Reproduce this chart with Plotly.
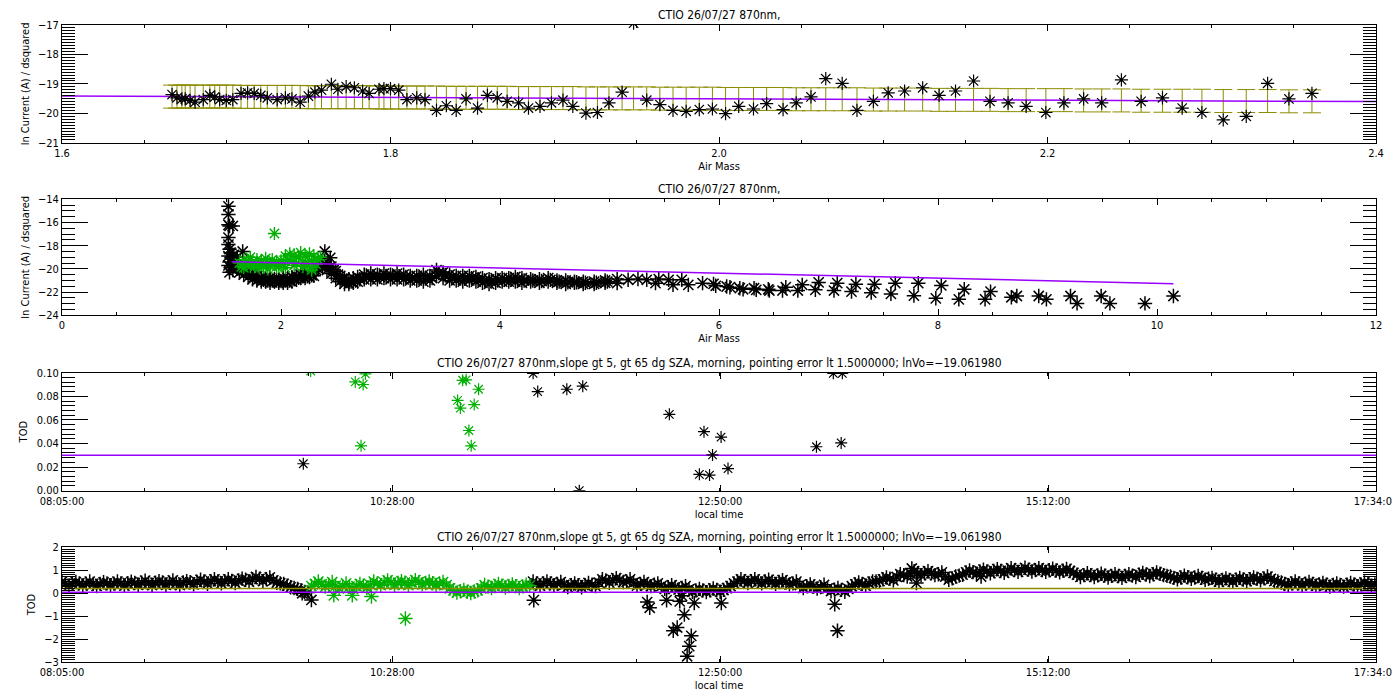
import plotly.graph_objects as go

FONT = "Liberation Sans Narrow, DejaVu Sans Condensed, Liberation Sans, sans-serif"
GREEN = "#00b000"
PURPLE = "#9a00ff"
OLIVE = "#8c8c00"

# ---- panel 1: morning points, ln current vs air mass ----
p1_airmass = [1.667, 1.670, 1.673, 1.675, 1.678, 1.681, 1.686, 1.690, 1.693, 1.696,
              1.700, 1.704, 1.709, 1.713, 1.717, 1.721, 1.725, 1.731, 1.736, 1.740,
              1.745, 1.750, 1.754, 1.758, 1.764, 1.768, 1.773, 1.778, 1.783, 1.787,
              1.793, 1.796, 1.800, 1.805, 1.810, 1.816, 1.821, 1.828, 1.834, 1.840,
              1.846, 1.853, 1.859, 1.865, 1.871, 1.878, 1.884, 1.891, 1.898, 1.905,
              1.911, 1.919, 1.926, 1.933, 1.941, 1.948, 1.956, 1.964, 1.972, 1.980,
              1.988, 1.996, 2.004, 2.012, 2.021, 2.029, 2.039, 2.047, 2.056, 2.065,
              2.075, 2.084, 2.094, 2.103, 2.113, 2.124, 2.134, 2.144, 2.155, 2.165,
              2.176, 2.187, 2.199, 2.210, 2.222, 2.233, 2.245, 2.257, 2.270, 2.282,
              2.294, 2.307, 2.321, 2.334, 2.347, 2.361]
p1_lnv = [-19.36, -19.47, -19.51, -19.51, -19.56, -19.62, -19.53, -19.39, -19.44, -19.53,
          -19.56, -19.53, -19.32, -19.30, -19.32, -19.39, -19.47, -19.53, -19.47, -19.51,
          -19.62, -19.41, -19.28, -19.21, -19.01, -19.18, -19.09, -19.13, -19.24, -19.32,
          -19.18, -19.16, -19.16, -19.21, -19.53, -19.47, -19.53, -19.90, -19.74, -19.90,
          -19.51, -19.82, -19.39, -19.47, -19.59, -19.64, -19.82, -19.76, -19.64, -19.55,
          -19.76, -19.99, -19.97, -19.64, -19.28, -16.94, -19.55, -19.70, -19.90, -19.93,
          -19.87, -19.85, -20.01, -19.76, -19.85, -19.67, -19.87, -19.64, -19.44, -18.82,
          -18.98, -19.90, -19.59, -19.30, -19.24, -19.13, -19.39, -19.24, -18.90, -19.59,
          -19.64, -19.76, -19.97, -19.64, -19.51, -19.64, -18.86, -19.59, -19.47, -19.82,
          -19.97, -20.22, -20.10, -18.98, -19.51, -19.32]
p1_err_mid = ([-19.43] * 12 + [-19.44] * 9 + [-19.45] * 9 + [-19.46] * 8 + [-19.47] * 7
              + [-19.48] * 6 + [-19.49] * 6 + [-19.50] * 5 + [-19.51] * 5 + [-19.52] * 5
              + [-19.53] * 4 + [-19.54] * 4 + [-19.55] * 4 + [-19.56] * 3 + [-19.57] * 4
              + [-19.58] * 3 + [-19.59] * 2)
p1_err = 0.39
p1_fit_x = [1.6, 2.4]
p1_fit_y = [-19.41, -19.60]

# ---- panel 2: all points, ln current vs air mass ----
p2_spike_x = [1.52, 1.52, 1.52, 1.53, 1.56, 1.52, 1.52, 1.53, 1.54, 1.52, 1.55,
              1.53, 1.52, 1.54, 1.56, 1.53, 1.57, 1.59, 1.57, 1.60, 1.65, 2.40, 2.45]
p2_spike_y = [-14.6, -15.3, -16.2, -16.3, -16.3, -17.3, -17.9, -18.3, -18.6, -18.9, -19.1,
              -19.4, -19.7, -19.9, -20.1, -20.3, -18.8, -19.3, -19.8, -19.0, -18.5, -18.5, -19.05]
p2_band_x = [1.62, 1.66, 1.70, 1.74, 1.78, 1.82, 1.86, 1.90, 1.94, 1.98,
             2.02, 2.06, 2.10, 2.14, 2.18, 2.22, 2.26, 2.30, 2.34, 2.38,
             2.42, 2.46, 2.50, 2.54, 2.58, 2.62, 2.66, 2.70,
             2.76, 2.82, 2.88, 2.94, 3.00, 3.06, 3.12, 3.18, 3.24, 3.30,
             3.36, 3.42, 3.48, 3.54, 3.60, 3.66, 3.72, 3.78, 3.84, 3.90, 3.96,
             4.02, 4.08, 4.14, 4.20, 4.28, 4.36, 4.44, 4.52, 4.60, 4.68, 4.76, 4.86, 4.96]
p2_band_top = [-19.9, -20.0, -20.2, -20.4, -20.6, -20.8, -20.8, -20.8, -20.9, -20.9,
               -20.8, -20.8, -20.7, -20.6, -20.5, -20.5, -20.4, -20.2, -19.5, -19.3,
               -19.6, -19.8, -20.2, -20.6, -20.8, -20.9, -20.8, -20.7,
               -20.5, -20.4, -20.5, -20.4, -20.5, -20.4, -20.5, -20.6, -20.6, -20.5,
               -20.6, -20.1, -20.3, -20.5, -20.6, -20.6, -20.6, -20.7, -20.8, -20.9, -20.8,
               -20.8, -20.8, -20.7, -20.8, -20.9, -20.9, -20.8, -21.0, -21.0, -21.1, -21.1, -21.1, -21.0]
p2_band_bot = [-20.3, -20.5, -20.7, -20.9, -21.0, -21.1, -21.1, -21.2, -21.1, -21.2,
               -21.2, -21.2, -21.1, -20.9, -20.8, -20.8, -20.7, -20.6, -20.0, -19.8,
               -20.1, -20.4, -20.8, -21.1, -21.3, -21.3, -21.2, -21.1,
               -20.9, -20.9, -20.9, -20.8, -20.9, -20.9, -20.9, -21.0, -21.0, -21.1,
               -21.0, -20.6, -20.8, -21.0, -21.0, -21.1, -21.0, -21.1, -21.2, -21.3, -21.2,
               -21.1, -21.1, -21.1, -21.2, -21.1, -21.2, -21.1, -21.2, -21.3, -21.2, -21.3, -21.3, -21.2]
# readings of the middle of the band, taken just right of each band_x
p2_band_mid_x = [x + 0.02 for x in p2_band_x]
p2_band_mid = [-20.1, -20.3, -20.5, -20.7, -20.8, -20.95, -21.0, -21.0, -21.0, -21.05,
               -21.0, -21.0, -20.9, -20.75, -20.65, -20.65, -20.55, -20.1, -19.7, -19.5,
               -19.9, -20.1, -20.5, -20.85, -21.05, -21.1, -21.0, -20.9,
               -20.7, -20.65, -20.7, -20.6, -20.7, -20.65, -20.7, -20.8, -20.8, -20.8,
               -20.8, -20.35, -20.55, -20.75, -20.8, -20.85, -20.8, -20.9, -21.0, -21.1, -21.0,
               -20.95, -20.95, -20.9, -21.0, -21.0, -21.05, -20.95, -21.1, -21.15, -21.15,
               -21.2, -21.2, -21.1]
p2_tail_x = [5.07, 5.07, 5.17, 5.26, 5.34, 5.42, 5.45, 5.54, 5.58, 5.66, 5.72,
             5.85, 5.95, 5.97, 6.07, 6.10, 6.19, 6.22, 6.32, 6.34, 6.45,
             6.46, 6.58, 6.61, 6.72, 6.76, 6.88, 6.91, 7.05, 7.08, 7.21,
             7.25, 7.39, 7.42, 7.57, 7.61, 7.78, 7.82, 7.98, 8.03, 8.19,
             8.24, 8.43, 8.48, 8.67, 8.72, 8.92, 8.99, 9.21, 9.27, 9.49,
             9.57, 9.89, 10.15]
p2_tail_y = [-21.23, -20.88, -20.94, -20.88, -20.94, -21.23, -20.88, -20.94, -21.38, -20.94, -21.38,
             -21.23, -21.29, -21.46, -21.52, -21.58, -21.67, -21.76, -21.67, -21.81, -21.76,
             -21.87, -21.87, -21.58, -21.87, -21.38, -21.81, -21.17, -21.87, -21.23, -21.96,
             -21.32, -22.05, -21.32, -22.16, -21.23, -22.31, -21.23, -22.54, -21.43, -22.63,
             -21.76, -22.63, -21.96, -22.45, -22.34, -22.34, -22.63, -22.34, -22.98, -22.34,
             -22.98, -22.98, -22.34]
p2_green_x = [1.62, 1.64, 1.66, 1.68, 1.70, 1.72, 1.74, 1.76, 1.78, 1.80,
              1.82, 1.84, 1.86, 1.88, 1.90, 1.92, 1.94, 1.96, 1.98, 2.00,
              2.02, 2.04, 2.06, 2.08, 2.10, 2.12, 2.14, 2.16, 2.18, 2.20,
              2.22, 2.24, 2.26, 2.28, 2.30, 2.32, 2.34, 2.36,
              1.66, 1.72, 1.80, 1.88, 1.96, 2.04, 2.12, 2.20, 2.28, 1.94, 2.28]
p2_green_y = [-19.5, -19.8, -19.2, -19.6, -19.3, -19.0, -19.5, -19.8, -19.2, -19.6,
              -19.3, -19.8, -19.1, -19.5, -19.7, -19.2, -19.6, -19.4, -19.8, -19.3,
              -19.6, -18.9, -19.2, -18.7, -19.4, -18.8, -19.5, -19.0, -18.6, -19.4,
              -18.9, -19.6, -18.7, -19.3, -18.9, -19.6, -19.2, -19.0,
              -19.9, -19.8, -19.9, -20.0, -19.8, -19.9, -19.7, -19.8, -19.9, -16.95, -20.1]
p2_fit_x = [1.55, 10.15]
p2_fit_y = [-19.38, -21.28]

# ---- panel 3: TOD vs local time (minutes after 08:05:00) ----
p3_black_t = [104.5, 204, 206, 218.6, 225.5, 224, 263, 276, 278, 280.4, 281.7, 285.4, 288.4,
              326.7, 334, 337.9, 337.4]
p3_black_v = [0.0228, 0.0995, 0.084, 0.086, 0.0886, 0.0, 0.0647, 0.0138, 0.050, 0.0132, 0.0303,
              0.0454, 0.0187, 0.0372, 0.0995, 0.0995, 0.0405]
p3_green_t = [107.7, 127, 129.5, 130.4, 131.4, 171.3, 172.5, 173.5, 175, 176.2, 177.2, 178.5, 180.4]
p3_green_v = [0.1015, 0.0922, 0.038, 0.090, 0.099, 0.0765, 0.070, 0.0936, 0.094, 0.051, 0.038,
              0.073, 0.086]
p3_fit_t = [0, 569]
p3_fit_v = [0.03, 0.03]

# ---- panel 4: TOD vs local time, all points ----
p4_t_a = list(range(0, 106, 3))
p4_v_a = [0.5, 0.32, 0.48, 0.33, 0.5, 0.31, 0.47, 0.34, 0.5, 0.32,
          0.49, 0.36, 0.54, 0.35, 0.52, 0.36, 0.55, 0.35, 0.52, 0.38,
          0.58, 0.4, 0.6, 0.42, 0.6, 0.44, 0.62, 0.5, 0.7, 0.52,
          0.68, 0.45, 0.4, 0.25, 0.18, 0.05]
p4_t_a2 = [t + 1.5 for t in p4_t_a]
p4_v_a2 = [0.41, 0.40, 0.42, 0.41, 0.40, 0.40, 0.42, 0.41, 0.42, 0.43,
           0.44, 0.45, 0.44, 0.45, 0.46, 0.45, 0.44, 0.46, 0.47, 0.48,
           0.50, 0.52, 0.51, 0.52, 0.53, 0.55, 0.58, 0.60, 0.62, 0.60,
           0.55, 0.42, 0.32, 0.22, 0.12, 0.02]
p4_t_green = list(range(108, 202, 3))
p4_v_green = [0.3, 0.5, 0.28, 0.48, 0.2, 0.42, 0.18, 0.4, 0.22, 0.5,
              0.34, 0.55, 0.36, 0.52, 0.34, 0.56, 0.38, 0.5, 0.35, 0.48,
              0.2, 0.02, 0.14, 0.0, 0.12, 0.35, 0.22, 0.4, 0.24, 0.38,
              0.22, 0.36]
p4_t_green2 = [t + 1.5 for t in p4_t_green]
p4_v_green2 = [0.40, 0.38, 0.36, 0.32, 0.30, 0.28, 0.30, 0.32, 0.36, 0.42,
               0.45, 0.46, 0.44, 0.45, 0.46, 0.47, 0.44, 0.43, 0.42, 0.35,
               0.12, 0.08, 0.06, 0.07, 0.20, 0.28, 0.30, 0.32, 0.31, 0.30,
               0.29, 0.32]
p4_t_c = list(range(204, 568, 3))
p4_v_c = [0.5, 0.32, 0.5, 0.34, 0.48, 0.26, 0.42, 0.25, 0.44, 0.3,
          0.6, 0.45, 0.65, 0.48, 0.6, 0.32, 0.48, 0.3, 0.42, 0.18,
          0.34, 0.16, 0.3, 0.05, 0.18, 0.04, 0.2, 0.06, 0.22, 0.42,
          0.6, 0.44, 0.6, 0.42, 0.58, 0.4, 0.56, 0.38, 0.5, 0.22,
          0.38, 0.2, 0.36, 0.08, 0.22, 0.06, 0.3, 0.46, 0.32, 0.5,
          0.52, 0.68, 0.55, 0.82, 0.72, 0.95, 0.78, 0.95, 0.78, 0.9,
          0.58, 0.72, 0.8, 0.98, 0.84, 1.02, 0.86, 1.04, 0.88, 1.08,
          0.92, 1.1, 0.94, 1.08, 0.92, 1.06, 0.9, 1.05, 0.88, 0.7,
          0.86, 0.7, 0.84, 0.68, 0.82, 0.66, 0.82, 0.7, 0.88, 0.74,
          0.9, 0.78, 0.72, 0.6, 0.76, 0.62, 0.74, 0.58, 0.66, 0.5,
          0.64, 0.5, 0.66, 0.52, 0.68, 0.56, 0.72, 0.52, 0.46, 0.34,
          0.5, 0.34, 0.48, 0.32, 0.44, 0.28, 0.42, 0.28, 0.44, 0.3,
          0.46, 0.32]
p4_t_c2 = [t + 1.5 for t in p4_t_c]
p4_v_c2 = [0.42, 0.42, 0.42, 0.40, 0.36, 0.34, 0.34, 0.34, 0.36, 0.45,
           0.55, 0.56, 0.55, 0.50, 0.45, 0.40, 0.38, 0.36, 0.30, 0.26,
           0.25, 0.22, 0.16, 0.11, 0.11, 0.12, 0.13, 0.14, 0.30, 0.50,
           0.52, 0.52, 0.50, 0.50, 0.48, 0.48, 0.46, 0.42, 0.35, 0.30,
           0.28, 0.26, 0.20, 0.15, 0.14, 0.18, 0.38, 0.40, 0.42, 0.50,
           0.60, 0.62, 0.70, 0.78, 0.85, 0.86, 0.86, 0.86, 0.82, 0.72,
           0.64, 0.76, 0.90, 0.91, 0.94, 0.94, 0.96, 0.96, 0.98, 1.00,
           1.00, 1.02, 1.00, 1.00, 0.99, 0.98, 0.97, 0.96, 0.80, 0.78,
           0.78, 0.77, 0.76, 0.75, 0.74, 0.75, 0.76, 0.80, 0.81, 0.82,
           0.84, 0.75, 0.66, 0.68, 0.69, 0.68, 0.66, 0.62, 0.58, 0.57,
           0.57, 0.58, 0.59, 0.60, 0.62, 0.64, 0.62, 0.50, 0.40, 0.42,
           0.42, 0.41, 0.40, 0.38, 0.36, 0.35, 0.35, 0.36, 0.37, 0.38,
           0.39, 0.38]
p4_out_t = [104, 108, 204.3, 253.4, 254.5, 261.8, 267.5, 268.5, 269.5, 264.7, 266.4, 272.5,
            271.6, 270.7, 273.8, 285.5, 334.6, 335.8, 368, 370, 398]
p4_out_v = [-0.01, -0.3, -0.31, -0.39, -0.64, -0.31, -0.36, -0.12, -0.94, -1.64, -1.5, -1.86,
            -2.31, -2.75, -0.43, -0.43, -0.49, -1.64, 1.07, 0.44, 0.72]
p4_green_out_t = [117.7, 125.7, 134, 148.7]
p4_green_out_v = [-0.1, -0.1, -0.15, -1.11]
p4_fit_t = [0, 569]
p4_fit_v = [0.03, 0.03]
p4_mean_v = [0.2, 0.2]

time_tickvals = [0, 143, 285, 427, 569]
time_ticktext = ["08:05:00", "10:28:00", "12:50:00", "15:12:00", "17:34:00"]

title_short = "CTIO 26/07/27 870nm,"
title_long = ("CTIO 26/07/27 870nm,slope gt 5, gt 65 dg SZA, morning, "
              "pointing error lt 1.5000000; lnVo=\u221219.061980")


def stars(x, y, color, xa, ya, size=10, width=1.2):
    return go.Scatter(x=x, y=y, mode="markers", xaxis=xa, yaxis=ya,
                      marker=dict(symbol="asterisk-open", size=size, color=color,
                                  line=dict(width=width, color=color)))


def line(x, y, color, xa, ya):
    return go.Scatter(x=x, y=y, mode="lines", xaxis=xa, yaxis=ya,
                      line=dict(color=color, width=1.5))


fig = go.Figure()

# panel 1
fig.add_trace(go.Scatter(x=p1_airmass, y=p1_err_mid, mode="markers", xaxis="x", yaxis="y",
                         marker=dict(size=1, color="rgba(0,0,0,0)"),
                         error_y=dict(type="constant", value=p1_err, color=OLIVE,
                                      thickness=1, width=9)))
fig.add_trace(line(p1_fit_x, p1_fit_y, PURPLE, "x", "y"))
fig.add_trace(stars(p1_airmass, p1_lnv, "black", "x", "y", size=11))

# panel 2
fig.add_trace(stars(p2_spike_x + p2_band_x + p2_band_x + p2_band_mid_x + p2_tail_x,
                    p2_spike_y + p2_band_top + p2_band_bot + p2_band_mid + p2_tail_y,
                    "black", "x2", "y2", size=12, width=1.5))
fig.add_trace(stars(p2_green_x, p2_green_y, GREEN, "x2", "y2", size=11, width=1.4))
fig.add_trace(line(p2_fit_x, p2_fit_y, PURPLE, "x2", "y2"))

# panel 3
fig.add_trace(line(p3_fit_t, p3_fit_v, PURPLE, "x3", "y3"))
fig.add_trace(stars(p3_black_t, p3_black_v, "black", "x3", "y3"))
fig.add_trace(stars(p3_green_t, p3_green_v, GREEN, "x3", "y3"))

# panel 4
fig.add_trace(stars(p4_t_a + p4_t_a2 + p4_t_c + p4_t_c2 + p4_out_t,
                    p4_v_a + p4_v_a2 + p4_v_c + p4_v_c2 + p4_out_v,
                    "black", "x4", "y4", size=12, width=1.5))
fig.add_trace(stars(p4_t_green + p4_t_green2 + p4_green_out_t,
                    p4_v_green + p4_v_green2 + p4_green_out_v,
                    GREEN, "x4", "y4", size=12, width=1.4))
fig.add_trace(line(p4_fit_t, p4_mean_v, OLIVE, "x4", "y4"))
fig.add_trace(line(p4_fit_t, p4_fit_v, PURPLE, "x4", "y4"))

tickfont = dict(family=FONT, size=11, color="black")
base = dict(showline=True, linecolor="black", linewidth=1, mirror="allticks",
            ticks="inside", tickcolor="black", showgrid=False, zeroline=False,
            tickfont=tickfont)


def xax(anchor, rng, minor, title, **kw):
    return dict(base, anchor=anchor, range=rng, ticklen=6, domain=[0, 1],
                minor=dict(dtick=minor, ticks="inside", ticklen=3, tickcolor="black"),
                title=dict(text=title, font=tickfont, standoff=0), **kw)


def yax(anchor, rng, dom, dtick, minor, title, **kw):
    return dict(base, anchor=anchor, range=rng, domain=dom, dtick=dtick, ticklen=26,
                minor=dict(dtick=minor, ticks="inside", ticklen=13, tickcolor="black"),
                title=dict(text=title, font=tickfont, standoff=6), **kw)


# page body adds ~8px offset, so margins are shifted to land the plot box at 62..1382 / 18..661
doms = [[0.8137, 0.9984], [0.5435, 0.7252], [0.2686, 0.4534], [0.0, 0.1801]]
ytitle = "ln Current (A) / dsquared"

fig.update_layout(
    width=1400, height=700, showlegend=False,
    paper_bgcolor="white", plot_bgcolor="white",
    margin=dict(l=54, r=26, t=10, b=46),
    font=dict(family=FONT, size=11, color="black"),
    xaxis=xax("y", [1.6, 2.4], 0.05, "Air Mass", dtick=0.2, tickformat=".1f"),
    xaxis2=xax("y2", [0, 12], 0.5, "Air Mass", dtick=2),
    xaxis3=xax("y3", [0, 569], 569 / 16, "local time",
               tickvals=time_tickvals, ticktext=time_ticktext),
    xaxis4=xax("y4", [0, 569], 569 / 16, "local time",
               tickvals=time_tickvals, ticktext=time_ticktext),
    yaxis=yax("x", [-21, -17], doms[0], 1, 0.1, ytitle),
    yaxis2=yax("x2", [-24, -14], doms[1], 2, 0.5, ytitle),
    yaxis3=yax("x3", [0, 0.10], doms[2], 0.02, 0.004, "TOD", tickformat=".2f"),
    yaxis4=yax("x4", [-3, 2], doms[3], 1, 0.1, "TOD"),
)

for dom, text in zip(doms, [title_short, title_short, title_long, title_long]):
    fig.add_annotation(text=text, xref="paper", yref="paper", x=0.5, y=dom[1],
                       xanchor="center", yanchor="bottom", yshift=1, showarrow=False,
                       font=dict(family=FONT, size=12, color="black"))

fig.write_html("out.html")
